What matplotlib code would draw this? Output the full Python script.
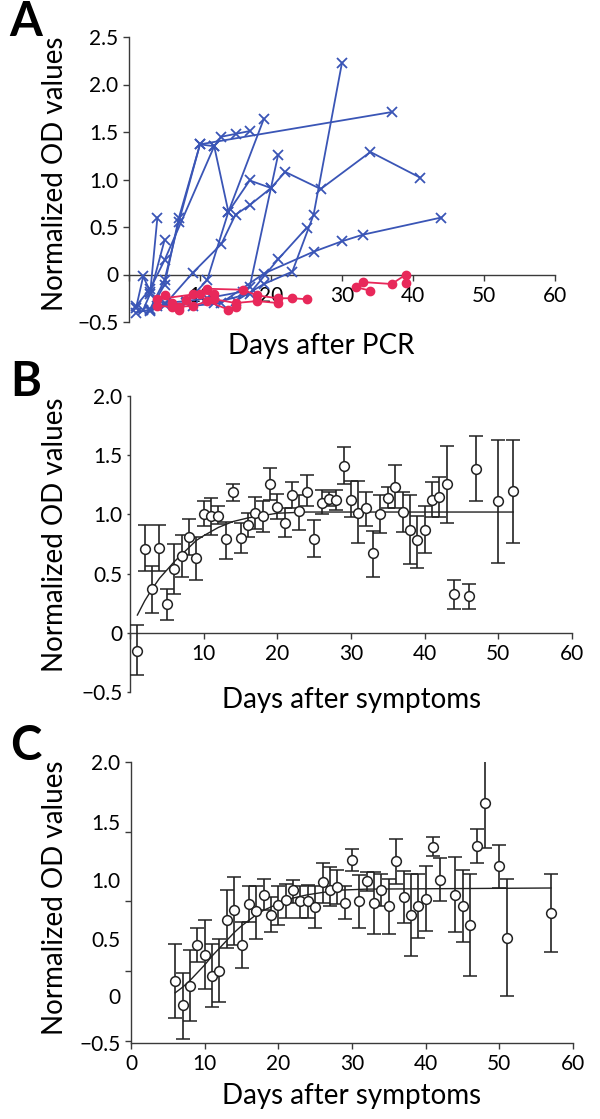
import numpy as np
import matplotlib
matplotlib.use("Agg")
import matplotlib.pyplot as plt

plt.rcParams['font.family'] = ['Lato', 'DejaVu Sans']

# ---------------- Panel A data (days after PCR, normalized OD) ----------------
a_blue_days = [
    [1, 3, 5, 7, 10, 37],
    [3, 5, 7, 10, 12, 13, 15, 17],
    [1, 3, 5, 12, 14, 19],
    [1, 2, 3, 4],
    [2, 3, 5],
    [3, 5, 8, 11, 16, 17, 21],
    [5, 9, 13, 15, 17, 20, 22, 27, 34, 41],
    [4, 8, 11, 14, 17, 20],
    [15, 19, 23, 26, 30],
    [12, 17, 21, 25],
    [9, 13, 19, 26, 30, 33, 44],
]
a_blue_vals = [
    [-0.40, -0.37, -0.11, 0.59, 1.37, 1.71],
    [-0.36, -0.06, 0.55, 1.37, 1.35, 1.45, 1.48, 1.51],
    [-0.33, -0.15, 0.15, 1.35, 0.66, 1.64],
    [-0.35, -0.02, -0.18, 0.60],
    [-0.37, -0.20, 0.36],
    [-0.38, -0.30, -0.28, -0.25, -0.18, -0.13, 1.26],
    [-0.32, 0.02, 0.32, 0.63, 0.73, 0.91, 1.08, 0.90, 1.29, 1.02],
    [-0.33, -0.30, -0.06, 0.66, 0.99, 0.91],
    [-0.28, -0.10, 0.03, 0.63, 2.23],
    [-0.30, -0.20, 0.16, 0.49],
    [-0.33, -0.30, 0.01, 0.24, 0.35, 0.42, 0.60],
]
a_red_days = [
    [4, 9, 11, 16, 18, 21, 23, 25],
    [4, 6, 7, 9, 12, 15, 18, 21],
    [5, 6, 7, 8, 10, 12],
    [11, 14, 15],
    [32, 34],
    [33, 37, 39],
    [39],
]
a_red_vals = [
    [-0.26, -0.21, -0.15, -0.16, -0.22, -0.25, -0.25, -0.26],
    [-0.33, -0.34, -0.34, -0.33, -0.26, -0.30, -0.28, -0.30],
    [-0.22, -0.30, -0.37, -0.27, -0.20, -0.21],
    [-0.28, -0.37, -0.34],
    [-0.135, -0.17],
    [-0.08, -0.10, 0.0],
    [-0.09],
]

# ---------------- Panel B data (days after symptoms) ----------------
b_days = [1, 2, 3, 4, 5, 6, 7, 8, 9, 10,
          11, 12, 13, 14, 15, 16, 17, 18, 19, 20,
          21, 22, 23, 24, 25, 26, 27, 28, 29, 30,
          31, 32, 33, 34, 35, 36, 37, 38, 39, 40,
          41, 42, 43, 44, 46, 47, 50, 52]
b_vals = [-0.15, 0.71, 0.37, 0.72, 0.24, 0.54, 0.65, 0.81, 0.63, 1.00,
          0.99, 0.99, 0.79, 1.19, 0.80, 0.91, 1.01, 0.99, 1.26, 1.06,
          0.93, 1.16, 1.03, 1.19, 0.79, 1.10, 1.13, 1.12, 1.41, 1.12,
          1.01, 1.05, 0.67, 1.00, 1.14, 1.23, 1.02, 0.87, 0.78, 0.87,
          1.12, 1.15, 1.26, 0.33, 0.31, 1.38, 1.11, 1.20]
b_top = [0.07, 0.91, 0.56, 0.91, 0.37, 0.75, 0.83, 0.96, 0.81, 1.11,
         1.14, 1.07, 0.94, 1.26, 0.93, 1.01, 1.15, 1.11, 1.39, 1.17,
         1.05, 1.27, 1.16, 1.33, 0.95, 1.21, 1.19, 1.21, 1.57, 1.28,
         1.28, 1.19, 0.86, 1.16, 1.23, 1.42, 1.19, 1.16, 0.99, 1.07,
         1.27, 1.32, 1.58, 0.45, 0.41, 1.66, 1.63, 1.63]
b_bot = [-0.36, 0.52, 0.17, 0.52, 0.11, 0.33, 0.47, 0.66, 0.45, 0.90,
         0.83, 0.92, 0.62, 1.11, 0.67, 0.81, 0.88, 0.85, 1.12, 0.96,
         0.81, 1.05, 0.87, 1.07, 0.64, 1.00, 1.07, 1.04, 1.26, 0.98,
         0.76, 0.90, 0.47, 0.84, 1.05, 1.05, 0.85, 0.58, 0.55, 0.67,
         0.98, 0.98, 0.93, 0.20, 0.20, 1.11, 0.59, 0.76]
b_fit_days = [1, 2, 3, 4, 5, 6, 7, 8, 9, 10, 12, 14, 16, 18, 20, 24, 52]
b_fit_vals = [0.15, 0.27, 0.37, 0.46, 0.53, 0.60, 0.66, 0.72, 0.78, 0.82,
              0.89, 0.94, 0.97, 0.99, 1.01, 1.02, 1.02]

# ---------------- Panel C data (days after symptoms) ----------------
c_days = [6, 7, 8, 9, 10, 11, 12, 13, 14, 15,
          16, 17, 18, 19, 20, 21, 22, 23, 24, 25,
          26, 27, 28, 29, 30, 31, 32, 33, 34, 35,
          36, 37, 38, 39, 40, 41, 42,
          44, 45, 46, 47, 48, 50, 51, 57]
c_vals = [0.04, -0.18, -0.01, 0.36, 0.27, 0.085, 0.125, 0.58, 0.67, 0.36,
          0.73, 0.66, 0.81, 0.63, 0.72, 0.76, 0.85, 0.75, 0.75, 0.70,
          0.92, 0.85, 0.88, 0.74, 1.12, 0.75, 0.93, 0.74, 0.855, 0.71,
          1.11, 0.79, 0.63, 0.71, 0.77, 1.24, 0.94,
          0.81, 0.71, 0.54, 1.25, 1.63, 1.07, 0.425, 0.65]
c_top = [0.37, 0.105, 0.31, 0.51, 0.58, 0.37, 0.41, 0.85, 0.97, 0.565,
         0.89, 0.89, 0.95, 0.79, 0.89, 0.91, 0.94, 0.89, 0.90, 0.89,
         1.09, 1.06, 1.03, 0.89, 1.22, 0.99, 1.01, 1.01, 1.00, 0.95,
         1.31, 1.02, 1.00, 1.00, 1.07, 1.33, 1.14,
         1.15, 1.03, 1.00, 1.40, 2.03, 1.26, 0.95, 1.00]
c_bot = [-0.30, -0.48, -0.325, 0.21, -0.035, -0.20, -0.155, 0.33, 0.36, 0.155,
         0.565, 0.416, 0.67, 0.476, 0.54, 0.60, 0.74, 0.60, 0.60, 0.51,
         0.74, 0.71, 0.73, 0.594, 1.02, 0.51, 0.846, 0.46, 0.71, 0.46,
         0.91, 0.56, 0.26, 0.42, 0.48, 1.16, 0.75,
         0.476, 0.39, 0.085, 1.09, 1.226, 0.87, -0.097, 0.30]
c_fit_days = [6, 7, 8, 9, 10, 11, 12, 13, 14, 15, 16, 17, 18, 19, 20, 22, 24, 26, 28, 32, 57]
c_fit_vals = [-0.07, -0.02, 0.04, 0.11, 0.18, 0.26, 0.33, 0.40, 0.47, 0.53,
              0.58, 0.63, 0.67, 0.70, 0.73, 0.78, 0.81, 0.83, 0.85, 0.86, 0.87]

# Tick labels
x_ticks = [0, 10, 20, 30, 40, 50, 60]
a_yticks = [-0.5, 0, 0.5, 1.0, 1.5, 2.0, 2.5]
a_ylabels = ['\u22120.5', '0', '0.5', '1.0', '1.5', '2.0', '2.5']
bc_ylabels = ['\u22120.5', '0', '0.5', '1.0', '1.5', '2.0']
b_yticks = [-0.5, 0, 0.5, 1.0, 1.5, 2.0]
c_label_pos = [-0.52, -0.10, 0.416, 0.941, 1.466, 2.0]

BLUE = '#3a55b6'
RED = '#e8285a'
AXC = '#3a3a3a'
W, H = 600, 1119
FS_TICK = 15
FS_LAB = 20

fig = plt.figure(figsize=(W / 100, H / 100), dpi=100)


def box(l, r, t, b):
    return [l / W, 1 - b / H, (r - l) / W, (b - t) / H]


def style(ax):
    for s in ('top', 'right'):
        ax.spines[s].set_visible(False)
    for s in ('left', 'bottom'):
        ax.spines[s].set_color(AXC)
        ax.spines[s].set_linewidth(1.0)
    ax.tick_params(colors=AXC, labelcolor='black', labelsize=FS_TICK, width=1.0, length=4)
    ax.set_xlim(0, 60)
    ax.set_axisbelow(True)


# ---------------- Panel A ----------------
axA = fig.add_axes(box(129, 555, 37, 322))
style(axA)
axA.set_ylim(-0.5, 2.5)
axA.spines['bottom'].set_position(('data', 0))
for d, v in zip(a_blue_days, a_blue_vals):
    axA.plot(d, v, color=BLUE, lw=1.3, marker='x', ms=7, mew=1.3, zorder=3)
for d, v in zip(a_red_days, a_red_vals):
    axA.plot(d, v, color=RED, lw=1.3, marker='o', ms=6, zorder=4)
axA.set_yticks(a_yticks, a_ylabels)
axA.set_xticks(x_ticks, [''] + [str(t) for t in x_ticks[1:]])
axA.tick_params(axis='x', pad=4)

# ---------------- Panel B ----------------
axB = fig.add_axes(box(130, 572, 396, 692))
style(axB)
axB.set_ylim(-0.5, 2.0)
axB.spines['bottom'].set_position(('data', 0))
bv = np.array(b_vals)
axB.errorbar(b_days, bv, yerr=[bv - np.array(b_bot), np.array(b_top) - bv],
             fmt='o', color='#222222', mfc='white', mec='#222222', ms=7, mew=1.1,
             ecolor='#222222', elinewidth=1.2, capsize=5, capthick=1.2, zorder=4)
axB.plot(b_fit_days, b_fit_vals, color='#222222', lw=1.0, zorder=3)
axB.set_yticks(b_yticks, bc_ylabels)
axB.set_xticks(x_ticks, [''] + [str(t) for t in x_ticks[1:]])
axB.tick_params(axis='y', length=2)
axB.tick_params(axis='x', pad=4)

# ---------------- Panel C ----------------
axC = fig.add_axes(box(131, 573, 762, 1043))
style(axC)
axC.set_ylim(-0.5, 2.0)
cv = np.array(c_vals)
axC.errorbar(c_days, cv, yerr=[cv - np.array(c_bot), np.array(c_top) - cv],
             fmt='o', color='#222222', mfc='white', mec='#222222', ms=7, mew=1.1,
             ecolor='#222222', elinewidth=1.2, capsize=5, capthick=1.2, zorder=4)
axC.plot(c_fit_days, c_fit_vals, color='#222222', lw=1.0, zorder=3)
axC.yaxis.remove_overlapping_locs = False
axC.set_yticks(np.linspace(-0.5, 2.0, 5), [''] * 5)
axC.set_yticks(c_label_pos, bc_ylabels, minor=True)
axC.tick_params(axis='y', which='minor', length=0, labelsize=FS_TICK, pad=7.5)
axC.set_xticks(x_ticks, [str(t) for t in x_ticks])
axC.tick_params(axis='x', pad=4)

# ---------------- Labels ----------------
fig.text(55 / W, 1 - 174 / H, 'Normalized OD values', rotation=90, ha='center', va='center', fontsize=FS_LAB)
fig.text(55 / W, 1 - 535 / H, 'Normalized OD values', rotation=90, ha='center', va='center', fontsize=FS_LAB)
fig.text(55 / W, 1 - 898 / H, 'Normalized OD values', rotation=90, ha='center', va='center', fontsize=FS_LAB)
fig.text(321 / W, 1 - 354 / H, 'Days after PCR', ha='center', va='baseline', fontsize=FS_LAB)
fig.text(352 / W, 1 - 708 / H, 'Days after symptoms', ha='center', va='baseline', fontsize=FS_LAB)
fig.text(352 / W, 1 - 1104 / H, 'Days after symptoms', ha='center', va='baseline', fontsize=FS_LAB)

for lab, y in (('A', 22), ('B', 382), ('C', 746)):
    fig.text(26 / W, 1 - y / H, lab, ha='center', va='center', fontsize=34, fontweight='bold')

fig.savefig('out.png', dpi=100)
